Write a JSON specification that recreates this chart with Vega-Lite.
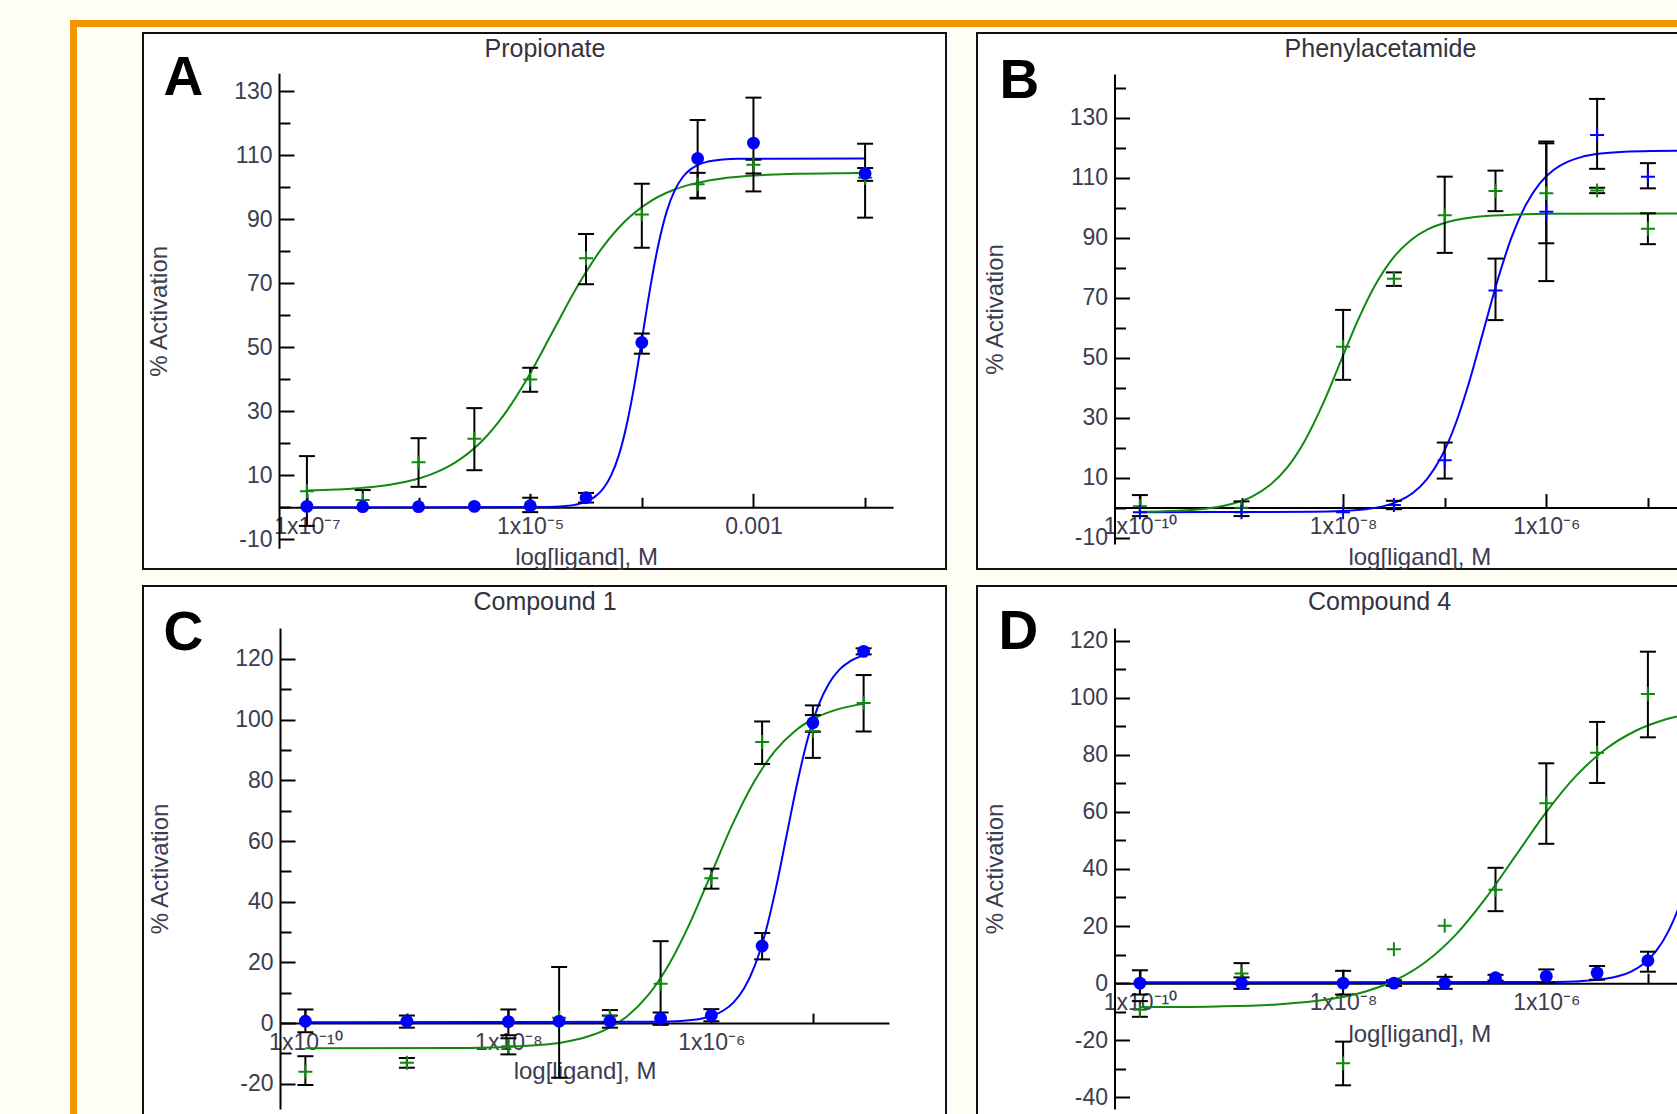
{
 "$schema": "https://vega.github.io/schema/vega-lite/v6.json",
 "background": "#FEFEF5",
 "padding": {"left": 70, "top": 20, "right": 0, "bottom": 0},
 "config": {
  "view": {"stroke": null},
  "font": "Liberation Sans",
  "axis": {"tickWidth": 2, "tickColor": "#000000", "domainColor": "#000000", "domainWidth": 2, "labelFont": "Liberation Sans", "labelFontSize": 23, "labelColor": "#3c3c50", "labelFlush": false, "labelOverlap": false, "labelBound": false, "titleFont": "Liberation Sans", "titleFontSize": 24, "titleFontWeight": "normal", "titleColor": "#3c3c50", "grid": false}
 },
 "datasets": {
  "pts": [
   {"panel":"A","series":"green","logM":-7,"y":5,"lo":-5.8,"hi":16},
   {"panel":"A","series":"green","logM":-6.5,"y":2.3,"lo":-0.2,"hi":5.4},
   {"panel":"A","series":"green","logM":-6,"y":14.1,"lo":6.4,"hi":21.6},
   {"panel":"A","series":"green","logM":-5.5,"y":21.4,"lo":11.6,"hi":31},
   {"panel":"A","series":"green","logM":-5,"y":39.9,"lo":36.1,"hi":43.6},
   {"panel":"A","series":"green","logM":-4.5,"y":77.8,"lo":69.7,"hi":85.4},
   {"panel":"A","series":"green","logM":-4,"y":91.5,"lo":81.1,"hi":101.1},
   {"panel":"A","series":"green","logM":-3.5,"y":100.9,"lo":96.7,"hi":104.5},
   {"panel":"A","series":"green","logM":-3,"y":107,"lo":104.3,"hi":108.6},
   {"panel":"A","series":"green","logM":-2,"y":103,"lo":90.5,"hi":113.6},
   {"panel":"A","series":"blue","logM":-7,"y":0.3,"lo":null,"hi":null},
   {"panel":"A","series":"blue","logM":-6.5,"y":0.2,"lo":null,"hi":null},
   {"panel":"A","series":"blue","logM":-6,"y":0.2,"lo":null,"hi":null},
   {"panel":"A","series":"blue","logM":-5.5,"y":0.3,"lo":null,"hi":null},
   {"panel":"A","series":"blue","logM":-5,"y":0.5,"lo":-1.5,"hi":3},
   {"panel":"A","series":"blue","logM":-4.5,"y":3,"lo":1.5,"hi":4.5},
   {"panel":"A","series":"blue","logM":-4,"y":51.5,"lo":48,"hi":54.3},
   {"panel":"A","series":"blue","logM":-3.5,"y":109,"lo":96.5,"hi":121},
   {"panel":"A","series":"blue","logM":-3,"y":113.8,"lo":98.7,"hi":128},
   {"panel":"A","series":"blue","logM":-2,"y":104.3,"lo":102,"hi":106},
   {"panel":"B","series":"green","logM":-10,"y":0.5,"lo":-2.8,"hi":4.2},
   {"panel":"B","series":"green","logM":-9,"y":0,"lo":-2.8,"hi":2.1},
   {"panel":"B","series":"green","logM":-8,"y":53.6,"lo":42.6,"hi":65.9},
   {"panel":"B","series":"green","logM":-7.5,"y":76.3,"lo":73.9,"hi":78.4},
   {"panel":"B","series":"green","logM":-7,"y":97.4,"lo":84.9,"hi":110.3},
   {"panel":"B","series":"green","logM":-6.5,"y":105.5,"lo":98.8,"hi":112.3},
   {"panel":"B","series":"green","logM":-6,"y":104.8,"lo":88.1,"hi":122},
   {"panel":"B","series":"green","logM":-5.5,"y":105.7,"lo":104.8,"hi":106.6},
   {"panel":"B","series":"green","logM":-5,"y":92.9,"lo":87.8,"hi":98.1},
   {"panel":"B","series":"blue","logM":-10,"y":-1.5,"lo":null,"hi":null},
   {"panel":"B","series":"blue","logM":-9,"y":-1.5,"lo":null,"hi":null},
   {"panel":"B","series":"blue","logM":-8,"y":-1.5,"lo":null,"hi":null},
   {"panel":"B","series":"blue","logM":-7.5,"y":0.9,"lo":-0.5,"hi":2.3},
   {"panel":"B","series":"blue","logM":-7,"y":15.8,"lo":9.7,"hi":21.7},
   {"panel":"B","series":"blue","logM":-6.5,"y":72.4,"lo":62.5,"hi":83},
   {"panel":"B","series":"blue","logM":-6,"y":98.6,"lo":75.5,"hi":121.4},
   {"panel":"B","series":"blue","logM":-5.5,"y":124.2,"lo":112.9,"hi":136.2},
   {"panel":"B","series":"blue","logM":-5,"y":110.3,"lo":106.4,"hi":114.8},
   {"panel":"C","series":"green","logM":-10,"y":-16,"lo":-20.4,"hi":-10.9},
   {"panel":"C","series":"green","logM":-9,"y":-13.1,"lo":-14.7,"hi":-11.5},
   {"panel":"C","series":"green","logM":-8,"y":-7.6,"lo":-10.3,"hi":-5},
   {"panel":"C","series":"green","logM":-7.5,"y":1.8,"lo":-18,"hi":18.5},
   {"panel":"C","series":"green","logM":-7,"y":2.3,"lo":0.3,"hi":4.3},
   {"panel":"C","series":"green","logM":-6.5,"y":13,"lo":-0.5,"hi":27},
   {"panel":"C","series":"green","logM":-6,"y":47.7,"lo":44.3,"hi":50.9},
   {"panel":"C","series":"green","logM":-5.5,"y":92.6,"lo":85.4,"hi":99.4},
   {"panel":"C","series":"green","logM":-5,"y":96.3,"lo":87.4,"hi":104.7},
   {"panel":"C","series":"green","logM":-4.5,"y":105.5,"lo":96.1,"hi":114.7},
   {"panel":"C","series":"blue","logM":-10,"y":0.6,"lo":-3,"hi":4.5},
   {"panel":"C","series":"blue","logM":-9,"y":0.6,"lo":-1.5,"hi":2.5},
   {"panel":"C","series":"blue","logM":-8,"y":0.5,"lo":-4,"hi":4.5},
   {"panel":"C","series":"blue","logM":-7.5,"y":0.6,"lo":null,"hi":null},
   {"panel":"C","series":"blue","logM":-7,"y":0.6,"lo":-1.5,"hi":2.5},
   {"panel":"C","series":"blue","logM":-6.5,"y":1.5,"lo":-0.5,"hi":3.5},
   {"panel":"C","series":"blue","logM":-6,"y":2.6,"lo":0.6,"hi":4.6},
   {"panel":"C","series":"blue","logM":-5.5,"y":25.4,"lo":21,"hi":29.7},
   {"panel":"C","series":"blue","logM":-5,"y":99,"lo":96,"hi":101.5},
   {"panel":"C","series":"blue","logM":-4.5,"y":122.5,"lo":121.5,"hi":123.5},
   {"panel":"D","series":"green","logM":-10,"y":-9.3,"lo":-11.8,"hi":-6.3},
   {"panel":"D","series":"green","logM":-9,"y":3.4,"lo":-0.2,"hi":7},
   {"panel":"D","series":"green","logM":-8,"y":-28.1,"lo":-35.8,"hi":-20.5},
   {"panel":"D","series":"green","logM":-7.5,"y":11.9,"lo":null,"hi":null},
   {"panel":"D","series":"green","logM":-7,"y":20.1,"lo":null,"hi":null},
   {"panel":"D","series":"green","logM":-6.5,"y":32.7,"lo":25.2,"hi":40.4},
   {"panel":"D","series":"green","logM":-6,"y":63,"lo":48.8,"hi":77},
   {"panel":"D","series":"green","logM":-5.5,"y":80.7,"lo":70.1,"hi":91.5},
   {"panel":"D","series":"green","logM":-5,"y":101.3,"lo":86.1,"hi":116.1},
   {"panel":"D","series":"blue","logM":-10,"y":0,"lo":-4,"hi":4.5},
   {"panel":"D","series":"blue","logM":-9,"y":0,"lo":-2,"hi":2},
   {"panel":"D","series":"blue","logM":-8,"y":0,"lo":-4,"hi":4.3},
   {"panel":"D","series":"blue","logM":-7.5,"y":0,"lo":-1,"hi":1},
   {"panel":"D","series":"blue","logM":-7,"y":0,"lo":-2,"hi":2.2},
   {"panel":"D","series":"blue","logM":-6.5,"y":1.9,"lo":0.9,"hi":2.9},
   {"panel":"D","series":"blue","logM":-6,"y":2.4,"lo":0,"hi":4.8},
   {"panel":"D","series":"blue","logM":-5.5,"y":3.6,"lo":1.2,"hi":6},
   {"panel":"D","series":"blue","logM":-5,"y":7.9,"lo":4,"hi":11}
  ],
  "fit": [
   {"panel":"A","series":"green","logM":-7,"y":5.29},
   {"panel":"A","series":"green","logM":-6.539,"y":5.99},
   {"panel":"A","series":"green","logM":-6.322,"y":6.74},
   {"panel":"A","series":"green","logM":-6.104,"y":8.05},
   {"panel":"A","series":"green","logM":-5.887,"y":10.29},
   {"panel":"A","series":"green","logM":-5.67,"y":14.04},
   {"panel":"A","series":"green","logM":-5.452,"y":20.02},
   {"panel":"A","series":"green","logM":-5.235,"y":28.91},
   {"panel":"A","series":"green","logM":-5.017,"y":40.83},
   {"panel":"A","series":"green","logM":-4.8,"y":54.75},
   {"panel":"A","series":"green","logM":-4.583,"y":68.67},
   {"panel":"A","series":"green","logM":-4.365,"y":80.59},
   {"panel":"A","series":"green","logM":-4.148,"y":89.48},
   {"panel":"A","series":"green","logM":-3.93,"y":95.45},
   {"panel":"A","series":"green","logM":-3.713,"y":99.21},
   {"panel":"A","series":"green","logM":-3.496,"y":101.45},
   {"panel":"A","series":"green","logM":-3.278,"y":102.76},
   {"panel":"A","series":"green","logM":-3.061,"y":103.51},
   {"panel":"A","series":"green","logM":-2.626,"y":104.18},
   {"panel":"A","series":"green","logM":-2.191,"y":104.4},
   {"panel":"A","series":"green","logM":-2,"y":104.45},
   {"panel":"A","series":"blue","logM":-7,"y":0},
   {"panel":"A","series":"blue","logM":-4.847,"y":0.11},
   {"panel":"A","series":"blue","logM":-4.704,"y":0.35},
   {"panel":"A","series":"blue","logM":-4.561,"y":1.08},
   {"panel":"A","series":"blue","logM":-4.49,"y":1.91},
   {"panel":"A","series":"blue","logM":-4.419,"y":3.35},
   {"panel":"A","series":"blue","logM":-4.347,"y":5.8},
   {"panel":"A","series":"blue","logM":-4.276,"y":9.91},
   {"panel":"A","series":"blue","logM":-4.204,"y":16.46},
   {"panel":"A","series":"blue","logM":-4.133,"y":26.19},
   {"panel":"A","series":"blue","logM":-4.061,"y":39.25},
   {"panel":"A","series":"blue","logM":-3.99,"y":54.5},
   {"panel":"A","series":"blue","logM":-3.919,"y":69.75},
   {"panel":"A","series":"blue","logM":-3.847,"y":82.81},
   {"panel":"A","series":"blue","logM":-3.776,"y":92.54},
   {"panel":"A","series":"blue","logM":-3.704,"y":99.09},
   {"panel":"A","series":"blue","logM":-3.633,"y":103.2},
   {"panel":"A","series":"blue","logM":-3.561,"y":105.65},
   {"panel":"A","series":"blue","logM":-3.49,"y":107.09},
   {"panel":"A","series":"blue","logM":-3.419,"y":107.92},
   {"panel":"A","series":"blue","logM":-3.276,"y":108.65},
   {"panel":"A","series":"blue","logM":-3.133,"y":108.89},
   {"panel":"A","series":"blue","logM":-2,"y":109},
   {"panel":"B","series":"blue","logM":-10,"y":-1.5},
   {"panel":"B","series":"blue","logM":-8.287,"y":-1.38},
   {"panel":"B","series":"blue","logM":-8.009,"y":-1.11},
   {"panel":"B","series":"blue","logM":-7.731,"y":-0.31},
   {"panel":"B","series":"blue","logM":-7.592,"y":0.61},
   {"panel":"B","series":"blue","logM":-7.453,"y":2.2},
   {"panel":"B","series":"blue","logM":-7.314,"y":4.91},
   {"panel":"B","series":"blue","logM":-7.176,"y":9.45},
   {"panel":"B","series":"blue","logM":-7.037,"y":16.7},
   {"panel":"B","series":"blue","logM":-6.898,"y":27.46},
   {"panel":"B","series":"blue","logM":-6.759,"y":41.89},
   {"panel":"B","series":"blue","logM":-6.62,"y":58.75},
   {"panel":"B","series":"blue","logM":-6.481,"y":75.61},
   {"panel":"B","series":"blue","logM":-6.342,"y":90.04},
   {"panel":"B","series":"blue","logM":-6.203,"y":100.8},
   {"panel":"B","series":"blue","logM":-6.064,"y":108.05},
   {"panel":"B","series":"blue","logM":-5.926,"y":112.59},
   {"panel":"B","series":"blue","logM":-5.787,"y":115.3},
   {"panel":"B","series":"blue","logM":-5.648,"y":116.89},
   {"panel":"B","series":"blue","logM":-5.509,"y":117.81},
   {"panel":"B","series":"blue","logM":-5.231,"y":118.61},
   {"panel":"B","series":"blue","logM":-4.953,"y":118.88},
   {"panel":"B","series":"blue","logM":-4.5,"y":119},
   {"panel":"B","series":"green","logM":-10,"y":-1.36},
   {"panel":"B","series":"green","logM":-9.754,"y":-1.18},
   {"panel":"B","series":"green","logM":-9.409,"y":-0.52},
   {"panel":"B","series":"green","logM":-9.237,"y":0.24},
   {"panel":"B","series":"green","logM":-9.064,"y":1.55},
   {"panel":"B","series":"green","logM":-8.892,"y":3.79},
   {"panel":"B","series":"green","logM":-8.72,"y":7.54},
   {"panel":"B","series":"green","logM":-8.547,"y":13.52},
   {"panel":"B","series":"green","logM":-8.375,"y":22.41},
   {"panel":"B","series":"green","logM":-8.202,"y":34.33},
   {"panel":"B","series":"green","logM":-8.03,"y":48.25},
   {"panel":"B","series":"green","logM":-7.858,"y":62.17},
   {"panel":"B","series":"green","logM":-7.685,"y":74.09},
   {"panel":"B","series":"green","logM":-7.513,"y":82.98},
   {"panel":"B","series":"green","logM":-7.34,"y":88.95},
   {"panel":"B","series":"green","logM":-7.168,"y":92.71},
   {"panel":"B","series":"green","logM":-6.996,"y":94.95},
   {"panel":"B","series":"green","logM":-6.823,"y":96.26},
   {"panel":"B","series":"green","logM":-6.651,"y":97.01},
   {"panel":"B","series":"green","logM":-6.306,"y":97.68},
   {"panel":"B","series":"green","logM":-5.961,"y":97.9},
   {"panel":"B","series":"green","logM":-4.5,"y":98},
   {"panel":"C","series":"green","logM":-10,"y":-8.3},
   {"panel":"C","series":"green","logM":-8.5,"y":-8.18},
   {"panel":"C","series":"green","logM":-8.083,"y":-7.93},
   {"panel":"C","series":"green","logM":-7.667,"y":-7.16},
   {"panel":"C","series":"green","logM":-7.458,"y":-6.28},
   {"panel":"C","series":"green","logM":-7.25,"y":-4.76},
   {"panel":"C","series":"green","logM":-7.042,"y":-2.17},
   {"panel":"C","series":"green","logM":-6.833,"y":2.18},
   {"panel":"C","series":"green","logM":-6.625,"y":9.11},
   {"panel":"C","series":"green","logM":-6.417,"y":19.41},
   {"panel":"C","series":"green","logM":-6.208,"y":33.22},
   {"panel":"C","series":"green","logM":-6,"y":49.35},
   {"panel":"C","series":"green","logM":-5.792,"y":65.48},
   {"panel":"C","series":"green","logM":-5.583,"y":79.29},
   {"panel":"C","series":"green","logM":-5.375,"y":89.59},
   {"panel":"C","series":"green","logM":-5.167,"y":96.52},
   {"panel":"C","series":"green","logM":-4.958,"y":100.87},
   {"panel":"C","series":"green","logM":-4.75,"y":103.46},
   {"panel":"C","series":"green","logM":-4.5,"y":105.2},
   {"panel":"C","series":"blue","logM":-10,"y":0.3},
   {"panel":"C","series":"blue","logM":-6.51,"y":0.42},
   {"panel":"C","series":"blue","logM":-6.302,"y":0.69},
   {"panel":"C","series":"blue","logM":-6.093,"y":1.51},
   {"panel":"C","series":"blue","logM":-5.989,"y":2.45},
   {"panel":"C","series":"blue","logM":-5.885,"y":4.07},
   {"panel":"C","series":"blue","logM":-5.781,"y":6.83},
   {"panel":"C","series":"blue","logM":-5.677,"y":11.45},
   {"panel":"C","series":"blue","logM":-5.573,"y":18.83},
   {"panel":"C","series":"blue","logM":-5.468,"y":29.78},
   {"panel":"C","series":"blue","logM":-5.364,"y":44.48},
   {"panel":"C","series":"blue","logM":-5.26,"y":61.65},
   {"panel":"C","series":"blue","logM":-5.156,"y":78.82},
   {"panel":"C","series":"blue","logM":-5.052,"y":93.51},
   {"panel":"C","series":"blue","logM":-4.948,"y":104.47},
   {"panel":"C","series":"blue","logM":-4.843,"y":111.84},
   {"panel":"C","series":"blue","logM":-4.739,"y":116.47},
   {"panel":"C","series":"blue","logM":-4.635,"y":119.23},
   {"panel":"C","series":"blue","logM":-4.5,"y":121.18},
   {"panel":"D","series":"green","logM":-10,"y":-8.43},
   {"panel":"D","series":"green","logM":-9.829,"y":-8.39},
   {"panel":"D","series":"green","logM":-9.241,"y":-8.16},
   {"panel":"D","series":"green","logM":-8.653,"y":-7.45},
   {"panel":"D","series":"green","logM":-8.359,"y":-6.64},
   {"panel":"D","series":"green","logM":-8.065,"y":-5.23},
   {"panel":"D","series":"green","logM":-7.771,"y":-2.83},
   {"panel":"D","series":"green","logM":-7.476,"y":1.18},
   {"panel":"D","series":"green","logM":-7.182,"y":7.58},
   {"panel":"D","series":"green","logM":-6.888,"y":17.09},
   {"panel":"D","series":"green","logM":-6.594,"y":29.85},
   {"panel":"D","series":"green","logM":-6.3,"y":44.75},
   {"panel":"D","series":"green","logM":-6.006,"y":59.65},
   {"panel":"D","series":"green","logM":-5.712,"y":72.41},
   {"panel":"D","series":"green","logM":-5.418,"y":81.92},
   {"panel":"D","series":"green","logM":-5.124,"y":88.32},
   {"panel":"D","series":"green","logM":-4.829,"y":92.33},
   {"panel":"D","series":"green","logM":-4.5,"y":94.95},
   {"panel":"D","series":"blue","logM":-10,"y":0.3},
   {"panel":"D","series":"blue","logM":-5.92,"y":0.42},
   {"panel":"D","series":"blue","logM":-5.67,"y":0.68},
   {"panel":"D","series":"blue","logM":-5.42,"y":1.49},
   {"panel":"D","series":"blue","logM":-5.295,"y":2.39},
   {"panel":"D","series":"blue","logM":-5.17,"y":3.97},
   {"panel":"D","series":"blue","logM":-5.045,"y":6.67},
   {"panel":"D","series":"blue","logM":-4.92,"y":11.18},
   {"panel":"D","series":"blue","logM":-4.795,"y":18.37},
   {"panel":"D","series":"blue","logM":-4.67,"y":29.06},
   {"panel":"D","series":"blue","logM":-4.5,"y":49.26}
  ]
 },
 "spacing": 0,
 "hconcat": [
  {"data": {"values": []}, "mark": "point", "width": 7, "height": 1100, "view": {"fill": "#F29600", "stroke": null}},
  {"spacing": 5, "vconcat": [
   {"data": {"values": []}, "mark": "point", "width": 1703, "height": 7, "view": {"fill": "#F29600", "stroke": null}},
   {"spacing": 30, "hconcat": [
    {"data": {"values": []}, "mark": "point", "width": 35, "height": 10, "view": {"fill": "#FEFEF5", "stroke": null}},
    {"spacing": 14, "vconcat": [
     {"spacing": 29, "hconcat": [
      {
       "width": 803, "height": 536,
       "view": {"fill": "#ffffff", "stroke": "#111111", "strokeWidth": 2},
       "resolve": {"axis": {"x": "independent", "y": "independent"}},
       "layer": [
        {"data": {"name": "fit"}, "transform": [{"filter": "datum.panel === 'A'"}],
         "mark": {"type": "line", "strokeWidth": 2, "interpolate": "monotone"},
         "encoding": {
          "x": {"field": "logM", "type": "quantitative", "scale": {"domain": [-7.25, -1.75], "range": [136, 750], "nice": false, "zero": false},
                "axis": {"orient": "bottom", "offset": -61.7, "values": [-7, -5, -3], "labelExpr": "datum.value == -7 ? '1x10⁻⁷' : datum.value == -5 ? '1x10⁻⁵' : '0.001'", "tickSize": -14, "labelPadding": 22, "title": "log[ligand], M", "titlePadding": 7}},
          "y": {"field": "y", "type": "quantitative", "scale": {"domain": [-12.8, 135.6], "range": [515.3, 40.3], "nice": false, "zero": false},
                "axis": {"orient": "left", "offset": -136, "values": [-10, 10, 30, 50, 70, 90, 110, 130], "labelExpr": "'' + datum.value", "tickSize": -15, "labelPadding": 22, "title": "% Activation", "titlePadding": 62}},
          "color": {"field": "series", "type": "nominal", "scale": {"domain": ["green", "blue"], "range": ["#0f8a0f", "#0000ff"]}, "legend": null}
         }},
        {"data": {"name": "pts"}, "transform": [{"filter": "datum.panel === 'A' && datum.lo != null"}],
         "mark": {"type": "rule", "color": "#000000", "strokeWidth": 2},
         "encoding": {
          "x": {"field": "logM", "type": "quantitative", "axis": {"orient": "bottom", "offset": -61.7, "values": [-6, -4, -2], "labels": false, "domain": false, "tickSize": -10, "title": null}},
          "y": {"field": "lo", "type": "quantitative", "axis": {"orient": "left", "offset": -136, "values": [0, 20, 40, 60, 80, 100, 120], "labels": false, "domain": false, "tickSize": -11, "title": null}},
          "y2": {"field": "hi"}
         }},
        {"data": {"name": "pts"}, "transform": [{"filter": "datum.panel === 'A' && datum.lo != null"}, {"fold": ["lo", "hi"], "as": ["end", "val"]}],
         "mark": {"type": "point", "shape": "M-1,0H1", "size": 256, "filled": false, "stroke": "#000000", "strokeWidth": 2, "opacity": 1},
         "encoding": {
          "x": {"field": "logM", "type": "quantitative", "axis": {"orient": "top", "offset": 0, "ticks": false, "labels": false, "domain": false, "title": "Propionate", "titleAngle": 0, "titleAlign": "center", "titleBaseline": "alphabetic", "titleX": 401.5, "titleY": 23, "titleFontSize": 25, "titleColor": "#333340"}},
          "y": {"field": "val", "type": "quantitative", "axis": {"orient": "left", "offset": 0, "ticks": false, "labels": false, "domain": false, "title": "A", "titleAngle": 0, "titleAlign": "left", "titleBaseline": "alphabetic", "titleX": 20, "titleY": 61, "titleFontSize": 55, "titleFontWeight": "bold", "titleColor": "#000000"}}
         }},
        {"data": {"name": "pts"}, "transform": [{"filter": "datum.panel === 'A' && datum.series === 'green'"}],
         "mark": {"type": "point", "shape": "M-1,0H1M0,-1V1", "size": 196, "filled": false, "strokeWidth": 2, "opacity": 1},
         "encoding": {"x": {"field": "logM", "type": "quantitative", "axis": null}, "y": {"field": "y", "type": "quantitative", "axis": null}, "color": {"field": "series", "type": "nominal", "legend": null}}},
        {"data": {"name": "pts"}, "transform": [{"filter": "datum.panel === 'A' && datum.series === 'blue'"}],
         "mark": {"type": "point", "shape": "circle", "filled": true, "size": 165, "opacity": 1},
         "encoding": {"x": {"field": "logM", "type": "quantitative", "axis": null}, "y": {"field": "y", "type": "quantitative", "axis": null}, "color": {"field": "series", "type": "nominal", "legend": null}}}
       ]
      },
      {
       "width": 803, "height": 536,
       "view": {"fill": "#ffffff", "stroke": "#111111", "strokeWidth": 2},
       "resolve": {"axis": {"x": "independent", "y": "independent"}},
       "layer": [
        {"data": {"name": "fit"}, "transform": [{"filter": "datum.panel === 'B'"}],
         "mark": {"type": "line", "strokeWidth": 2, "interpolate": "monotone"},
         "encoding": {
          "x": {"field": "logM", "type": "quantitative", "scale": {"domain": [-10.25, -4.25], "range": [137.5, 747.1], "nice": false, "zero": false},
                "axis": {"orient": "bottom", "offset": -61.4, "values": [-10, -8, -6], "labelExpr": "datum.value == -10 ? '1x10⁻¹⁰' : datum.value == -8 ? '1x10⁻⁸' : '1x10⁻⁶'", "tickSize": -14, "labelPadding": 22, "title": "log[ligand], M", "titlePadding": 7}},
          "y": {"field": "y", "type": "quantitative", "scale": {"domain": [-12.1, 144.5], "range": [511, 41], "nice": false, "zero": false},
                "axis": {"orient": "left", "offset": -137.5, "values": [-10, 10, 30, 50, 70, 90, 110, 130], "labelExpr": "'' + datum.value", "tickSize": -15, "labelPadding": 22, "title": "% Activation", "titlePadding": 62}},
          "color": {"field": "series", "type": "nominal", "scale": {"domain": ["green", "blue"], "range": ["#0f8a0f", "#0000ff"]}, "legend": null}
         }},
        {"data": {"name": "pts"}, "transform": [{"filter": "datum.panel === 'B' && datum.lo != null"}],
         "mark": {"type": "rule", "color": "#000000", "strokeWidth": 2},
         "encoding": {
          "x": {"field": "logM", "type": "quantitative", "axis": {"orient": "bottom", "offset": -61.4, "values": [-9, -7, -5], "labels": false, "domain": false, "tickSize": -10, "title": null}},
          "y": {"field": "lo", "type": "quantitative", "axis": {"orient": "left", "offset": -137.5, "values": [0, 20, 40, 60, 80, 100, 120, 140], "labels": false, "domain": false, "tickSize": -11, "title": null}},
          "y2": {"field": "hi"}
         }},
        {"data": {"name": "pts"}, "transform": [{"filter": "datum.panel === 'B' && datum.lo != null"}, {"fold": ["lo", "hi"], "as": ["end", "val"]}],
         "mark": {"type": "point", "shape": "M-1,0H1", "size": 256, "filled": false, "stroke": "#000000", "strokeWidth": 2, "opacity": 1},
         "encoding": {
          "x": {"field": "logM", "type": "quantitative", "axis": {"orient": "top", "offset": 0, "ticks": false, "labels": false, "domain": false, "title": "Phenylacetamide", "titleAngle": 0, "titleAlign": "center", "titleBaseline": "alphabetic", "titleX": 403, "titleY": 23, "titleFontSize": 25, "titleColor": "#333340"}},
          "y": {"field": "val", "type": "quantitative", "axis": {"orient": "left", "offset": 0, "ticks": false, "labels": false, "domain": false, "title": "B", "titleAngle": 0, "titleAlign": "left", "titleBaseline": "alphabetic", "titleX": 22, "titleY": 64, "titleFontSize": 55, "titleFontWeight": "bold", "titleColor": "#000000"}}
         }},
        {"data": {"name": "pts"}, "transform": [{"filter": "datum.panel === 'B'"}],
         "mark": {"type": "point", "shape": "M-1,0H1M0,-1V1", "size": 196, "filled": false, "strokeWidth": 2, "opacity": 1},
         "encoding": {"x": {"field": "logM", "type": "quantitative", "axis": null}, "y": {"field": "y", "type": "quantitative", "axis": null}, "color": {"field": "series", "type": "nominal", "legend": null}}}
       ]
      }
     ]},
     {"spacing": 29, "hconcat": [
      {
       "width": 803, "height": 536,
       "view": {"fill": "#ffffff", "stroke": "#111111", "strokeWidth": 2},
       "resolve": {"axis": {"x": "independent", "y": "independent"}},
       "layer": [
        {"data": {"name": "fit"}, "transform": [{"filter": "datum.panel === 'C'"}],
         "mark": {"type": "line", "strokeWidth": 2, "interpolate": "monotone"},
         "encoding": {
          "x": {"field": "logM", "type": "quantitative", "scale": {"domain": [-10.25, -4.25], "range": [137, 746], "nice": false, "zero": false},
                "axis": {"orient": "bottom", "offset": -98.9, "values": [-10, -8, -6], "labelExpr": "datum.value == -10 ? '1x10⁻¹⁰' : datum.value == -8 ? '1x10⁻⁸' : '1x10⁻⁶'", "tickSize": -14, "labelPadding": 22, "title": "log[ligand], M", "titlePadding": 5}},
          "y": {"field": "y", "type": "quantitative", "scale": {"domain": [-28.3, 130.2], "range": [523, 42], "nice": false, "zero": false},
                "axis": {"orient": "left", "offset": -137, "values": [-20, 0, 20, 40, 60, 80, 100, 120], "labelExpr": "'' + datum.value", "tickSize": -15, "labelPadding": 22, "title": "% Activation", "titlePadding": 62}},
          "color": {"field": "series", "type": "nominal", "scale": {"domain": ["green", "blue"], "range": ["#0f8a0f", "#0000ff"]}, "legend": null}
         }},
        {"data": {"name": "pts"}, "transform": [{"filter": "datum.panel === 'C' && datum.lo != null"}],
         "mark": {"type": "rule", "color": "#000000", "strokeWidth": 2},
         "encoding": {
          "x": {"field": "logM", "type": "quantitative", "axis": {"orient": "bottom", "offset": -98.9, "values": [-9, -7, -5], "labels": false, "domain": false, "tickSize": -10, "title": null}},
          "y": {"field": "lo", "type": "quantitative", "axis": {"orient": "left", "offset": -137, "values": [-10, 10, 30, 50, 70, 90, 110], "labels": false, "domain": false, "tickSize": -11, "title": null}},
          "y2": {"field": "hi"}
         }},
        {"data": {"name": "pts"}, "transform": [{"filter": "datum.panel === 'C' && datum.lo != null"}, {"fold": ["lo", "hi"], "as": ["end", "val"]}],
         "mark": {"type": "point", "shape": "M-1,0H1", "size": 256, "filled": false, "stroke": "#000000", "strokeWidth": 2, "opacity": 1},
         "encoding": {
          "x": {"field": "logM", "type": "quantitative", "axis": {"orient": "top", "offset": 0, "ticks": false, "labels": false, "domain": false, "title": "Compound 1", "titleAngle": 0, "titleAlign": "center", "titleBaseline": "alphabetic", "titleX": 401.5, "titleY": 23, "titleFontSize": 25, "titleColor": "#333340"}},
          "y": {"field": "val", "type": "quantitative", "axis": {"orient": "left", "offset": 0, "ticks": false, "labels": false, "domain": false, "title": "C", "titleAngle": 0, "titleAlign": "left", "titleBaseline": "alphabetic", "titleX": 20, "titleY": 63, "titleFontSize": 55, "titleFontWeight": "bold", "titleColor": "#000000"}}
         }},
        {"data": {"name": "pts"}, "transform": [{"filter": "datum.panel === 'C' && datum.series === 'green'"}],
         "mark": {"type": "point", "shape": "M-1,0H1M0,-1V1", "size": 196, "filled": false, "strokeWidth": 2, "opacity": 1},
         "encoding": {"x": {"field": "logM", "type": "quantitative", "axis": null}, "y": {"field": "y", "type": "quantitative", "axis": null}, "color": {"field": "series", "type": "nominal", "legend": null}}},
        {"data": {"name": "pts"}, "transform": [{"filter": "datum.panel === 'C' && datum.series === 'blue'"}],
         "mark": {"type": "point", "shape": "circle", "filled": true, "size": 165, "opacity": 1},
         "encoding": {"x": {"field": "logM", "type": "quantitative", "axis": null}, "y": {"field": "y", "type": "quantitative", "axis": null}, "color": {"field": "series", "type": "nominal", "legend": null}}}
       ]
      },
      {
       "width": 803, "height": 536,
       "view": {"fill": "#ffffff", "stroke": "#111111", "strokeWidth": 2},
       "resolve": {"axis": {"x": "independent", "y": "independent"}},
       "layer": [
        {"data": {"name": "fit"}, "transform": [{"filter": "datum.panel === 'D'"}],
         "mark": {"type": "line", "strokeWidth": 2, "interpolate": "monotone"},
         "encoding": {
          "x": {"field": "logM", "type": "quantitative", "scale": {"domain": [-10.25, -4.25], "range": [137.5, 747.1], "nice": false, "zero": false},
                "axis": {"orient": "bottom", "offset": -138.8, "values": [-10, -8, -6], "labelExpr": "datum.value == -10 ? '1x10⁻¹⁰' : datum.value == -8 ? '1x10⁻⁸' : '1x10⁻⁶'", "tickSize": -14, "labelPadding": 22, "title": "log[ligand], M", "titlePadding": 8}},
          "y": {"field": "y", "type": "quantitative", "scale": {"domain": [-44.1, 124.4], "range": [523, 42], "nice": false, "zero": false},
                "axis": {"orient": "left", "offset": -137.5, "values": [-40, -20, 0, 20, 40, 60, 80, 100, 120], "labelExpr": "'' + datum.value", "tickSize": -15, "labelPadding": 22, "title": "% Activation", "titlePadding": 62}},
          "color": {"field": "series", "type": "nominal", "scale": {"domain": ["green", "blue"], "range": ["#0f8a0f", "#0000ff"]}, "legend": null}
         }},
        {"data": {"name": "pts"}, "transform": [{"filter": "datum.panel === 'D' && datum.lo != null"}],
         "mark": {"type": "rule", "color": "#000000", "strokeWidth": 2},
         "encoding": {
          "x": {"field": "logM", "type": "quantitative", "axis": {"orient": "bottom", "offset": -138.8, "values": [-9, -7, -5], "labels": false, "domain": false, "tickSize": -10, "title": null}},
          "y": {"field": "lo", "type": "quantitative", "axis": {"orient": "left", "offset": -137.5, "values": [-30, -10, 10, 30, 50, 70, 90, 110], "labels": false, "domain": false, "tickSize": -11, "title": null}},
          "y2": {"field": "hi"}
         }},
        {"data": {"name": "pts"}, "transform": [{"filter": "datum.panel === 'D' && datum.lo != null"}, {"fold": ["lo", "hi"], "as": ["end", "val"]}],
         "mark": {"type": "point", "shape": "M-1,0H1", "size": 256, "filled": false, "stroke": "#000000", "strokeWidth": 2, "opacity": 1},
         "encoding": {
          "x": {"field": "logM", "type": "quantitative", "axis": {"orient": "top", "offset": 0, "ticks": false, "labels": false, "domain": false, "title": "Compound 4", "titleAngle": 0, "titleAlign": "center", "titleBaseline": "alphabetic", "titleX": 402, "titleY": 23, "titleFontSize": 25, "titleColor": "#333340"}},
          "y": {"field": "val", "type": "quantitative", "axis": {"orient": "left", "offset": 0, "ticks": false, "labels": false, "domain": false, "title": "D", "titleAngle": 0, "titleAlign": "left", "titleBaseline": "alphabetic", "titleX": 21, "titleY": 62, "titleFontSize": 55, "titleFontWeight": "bold", "titleColor": "#000000"}}
         }},
        {"data": {"name": "pts"}, "transform": [{"filter": "datum.panel === 'D' && datum.series === 'green'"}],
         "mark": {"type": "point", "shape": "M-1,0H1M0,-1V1", "size": 196, "filled": false, "strokeWidth": 2, "opacity": 1},
         "encoding": {"x": {"field": "logM", "type": "quantitative", "axis": null}, "y": {"field": "y", "type": "quantitative", "axis": null}, "color": {"field": "series", "type": "nominal", "legend": null}}},
        {"data": {"name": "pts"}, "transform": [{"filter": "datum.panel === 'D' && datum.series === 'blue'"}],
         "mark": {"type": "point", "shape": "circle", "filled": true, "size": 165, "opacity": 1},
         "encoding": {"x": {"field": "logM", "type": "quantitative", "axis": null}, "y": {"field": "y", "type": "quantitative", "axis": null}, "color": {"field": "series", "type": "nominal", "legend": null}}}
       ]
      }
     ]}
    ]}
   ]}
  ]}
 ]
}
